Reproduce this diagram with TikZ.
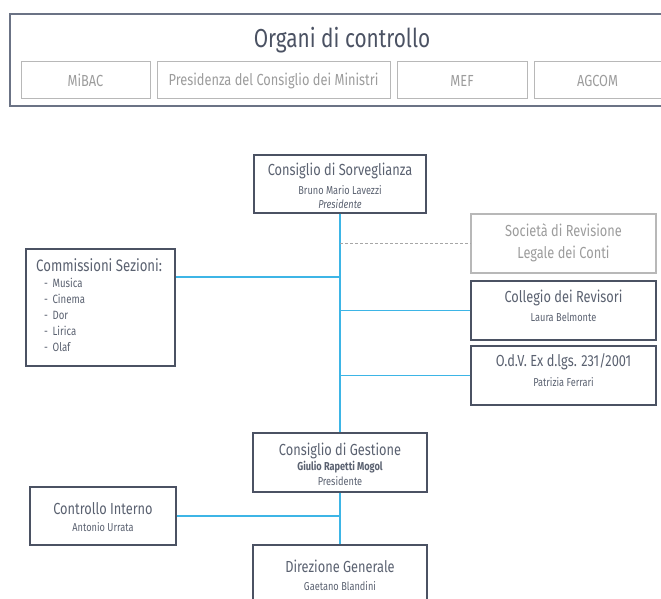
\documentclass[tikz,border=0pt]{standalone}
\usepackage{fontspec}
\setmainfont{Fira Sans}[FakeStretch=0.8]
\definecolor{boxc}{HTML}{4B5263}
\definecolor{txtc}{HTML}{5A6170}
\definecolor{bluec}{HTML}{3DB5E6}
\definecolor{lgc}{HTML}{B8B8B8}
\definecolor{ltxt}{HTML}{9C9C9C}
\definecolor{outc}{HTML}{6B7385}
\tikzset{
  box/.style={draw=boxc, line width=1.3pt, rectangle, inner sep=0pt},
  lbox/.style={draw=lgc, line width=1pt, rectangle, inner sep=0pt},
  ttl/.style={text=txtc, font=\fontsize{16}{18}\selectfont, inner sep=0pt},
  sub/.style={text=txtc, font=\fontsize{11.5}{13}\selectfont, inner sep=0pt},
  ltxt/.style={text=ltxt, font=\fontsize{16}{18}\selectfont, inner sep=0pt},
  conn/.style={draw=bluec, line width=1.2pt},
  dconn/.style={draw=gray!70, line width=1pt, dash pattern=on 3pt off 2pt},
}
\begin{document}
\begin{tikzpicture}[x=1pt,y=-1pt]
\useasboundingbox (0,0) rectangle (661,599);
% top frame
\node (frame) [draw=outc, line width=1.3pt, rectangle, inner sep=0pt, minimum width=670, minimum height=92] at (345,60) {};
\node (ttl) [text=boxc, font=\fontsize{26}{30}\selectfont, inner sep=0pt] at (342,40) {Organi di controllo};
\node (mibac) [lbox, minimum width=129, minimum height=37] at (85.5,80.5) {};
\node at (mibac) [ltxt] {MiBAC};
\node (pcm) [lbox, minimum width=233, minimum height=37] at (273.5,80.5) {};
\node at (pcm) [ltxt] {Presidenza del Consiglio dei Ministri};
\node (mef) [lbox, minimum width=130, minimum height=37] at (462,80.5) {};
\node at (mef) [ltxt] {MEF};
\node (agcom) [lbox, minimum width=140, minimum height=37] at (604,80.5) {};
\node at (597.5,80.5) [ltxt] {AGCOM};

% Consiglio di Sorveglianza
\node (cs) [box, minimum width=172, minimum height=58] at (340,184) {};
\node (cst) at (340,171) [ttl] {Consiglio di Sorveglianza};
\node (csn) at (340,190) [sub] {Bruno Mario Lavezzi};
\node (csp) at (340,204) [sub, font=\fontsize{11.5}{13}\selectfont\itshape] {Presidente};

% Societa di revisione
\node (soc) [lbox, line width=1.2pt, minimum width=185, minimum height=59] at (563.5,243.5) {};
\node (soct) at (563.5,230) [ltxt] {Società di Revisione};
\node (socl) at (563.5,254) [ltxt] {Legale dei Conti};

% Commissioni
\node (comm) [box, minimum width=149, minimum height=117] at (100.5,307.5) {};
\node (commt) [ttl, font=\fontsize{16.5}{18}\selectfont, anchor=west] at (36,265) {Commissioni Sezioni:};
\node (commi) [sub, font=\fontsize{12}{16.2}\selectfont, anchor=north west, align=left] at (44,277.5) {-\, Musica\\-\, Cinema\\-\, Dor\\-\, Lirica\\-\, Olaf};

% Collegio
\node (col) [box, minimum width=185, minimum height=59] at (563.5,310.5) {};
\node (colt) at (563.5,298) [ttl] {Collegio dei Revisori};
\node (coln) at (563.5,317) [sub] {Laura Belmonte};

% OdV
\node (odv) [box, minimum width=185, minimum height=59] at (563.5,375.5) {};
\node (odvt) at (563.5,362) [ttl] {O.d.V. Ex d.lgs. 231/2001};
\node (odvn) at (563.5,382) [sub] {Patrizia Ferrari};

% Consiglio di Gestione
\node (cg) [box, minimum width=174, minimum height=59] at (340,462.5) {};
\node (cgt) at (340,451) [ttl] {Consiglio di Gestione};
\node (cgn) at (340,467) [sub, font=\fontsize{11.5}{13}\selectfont\bfseries] {Giulio Rapetti Mogol};
\node (cgp) at (340,481) [sub] {Presidente};

% Controllo Interno
\node (ci) [box, minimum width=146, minimum height=58] at (103,516) {};
\node (cit) at (103,509) [ttl] {Controllo Interno};
\node (cin) at (103,527) [sub] {Antonio Urrata};

% Direzione Generale
\node (dg) [box, minimum width=174, minimum height=66] at (340,578) {};
\node (dgt) at (340,566) [ttl] {Direzione Generale};
\node (dgn) at (340,586) [sub] {Gaetano Blandini};

% connectors
\coordinate (jsoc) at (340,243.5);
\coordinate (jcomm) at (340,277);
\coordinate (jci) at (340,516);
\draw[conn] (cs.south) -- (cg.north);
\draw[dconn] (jsoc) -- (soc.west);
\draw[conn] (jcomm) -- (jcomm -| comm.east);
\draw[conn] (col.west) -- (col.west -| cs.south);
\draw[conn] (odv.west) -- (odv.west -| cs.south);
\draw[conn] (cg.south) -- (dg.north);
\draw[conn] (ci.east) -- (jci);
\end{tikzpicture}
\end{document}
